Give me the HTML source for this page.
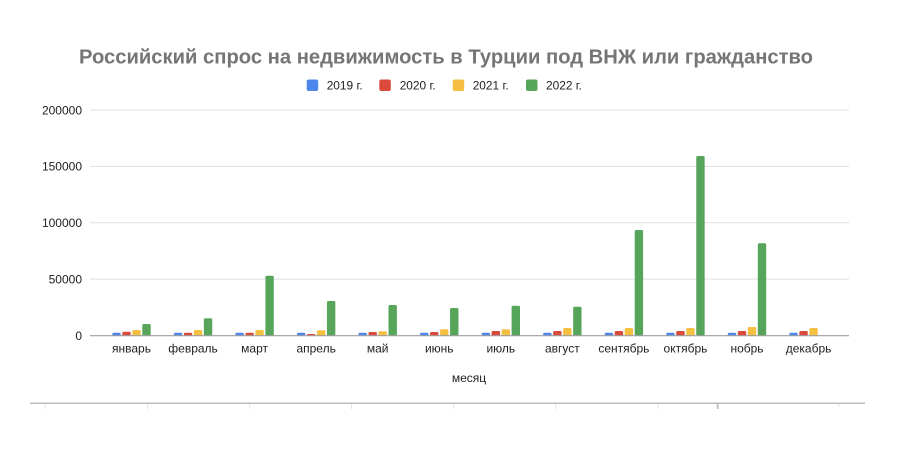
<!DOCTYPE html>
<html><head><meta charset="utf-8"><style>
html,body{margin:0;padding:0;background:#fff;}
svg{display:block;}
text{font-family:"Liberation Sans",Arial,sans-serif;}
</style></head><body>
<svg width="900" height="466" viewBox="0 0 900 466" xmlns="http://www.w3.org/2000/svg">
<rect width="900" height="466" fill="#fff"/>
<text x="446" y="63.3" text-anchor="middle" font-size="20" font-weight="bold" fill="#757575" textLength="734" lengthAdjust="spacingAndGlyphs">Российский спрос на недвижимость в Турции под ВНЖ или гражданство</text>
<!-- legend -->
<rect x="306.7" y="79.5" width="11.5" height="11.5" rx="2" fill="#4f86ec"/>
<text x="326.7" y="89.3" font-size="12" fill="#222" textLength="36" lengthAdjust="spacingAndGlyphs">2019 г.</text>
<rect x="379.3" y="79.5" width="11.5" height="11.5" rx="2" fill="#d94a3b"/>
<text x="399.7" y="89.3" font-size="12" fill="#222" textLength="36" lengthAdjust="spacingAndGlyphs">2020 г.</text>
<rect x="452.7" y="79.5" width="11.5" height="11.5" rx="2" fill="#f5c042"/>
<text x="472.7" y="89.3" font-size="12" fill="#222" textLength="36" lengthAdjust="spacingAndGlyphs">2021 г.</text>
<rect x="526" y="79.5" width="11.5" height="11.5" rx="2" fill="#57a55a"/>
<text x="546" y="89.3" font-size="12" fill="#222" textLength="36" lengthAdjust="spacingAndGlyphs">2022 г.</text>
<!-- gridlines -->
<g stroke="#e0e0e0" stroke-width="1">
<line x1="90" y1="110" x2="849" y2="110"/>
<line x1="90" y1="166.4" x2="849" y2="166.4"/>
<line x1="90" y1="222.8" x2="849" y2="222.8"/>
<line x1="90" y1="279.1" x2="849" y2="279.1"/>
</g>
<!-- y labels -->
<g font-size="12" fill="#222" text-anchor="end">
<text x="82" y="114.3">200000</text>
<text x="82" y="170.7">150000</text>
<text x="82" y="227.1">100000</text>
<text x="82" y="283.4">50000</text>
<text x="82" y="339.8">0</text>
</g>
<!-- bars -->
<g id="bars"></g>
<g>
<!-- generated inline -->
<g fill="#4f86ec">
<rect x="112.3" y="332.8" width="8.4" height="3" rx="1.3"/>
<rect x="173.85" y="332.8" width="8.4" height="3" rx="1.3"/>
<rect x="235.4" y="332.8" width="8.4" height="3" rx="1.3"/>
<rect x="296.95" y="332.8" width="8.4" height="3" rx="1.3"/>
<rect x="358.5" y="332.8" width="8.4" height="3" rx="1.3"/>
<rect x="420.05" y="332.8" width="8.4" height="3" rx="1.3"/>
<rect x="481.6" y="332.8" width="8.4" height="3" rx="1.3"/>
<rect x="543.15" y="332.8" width="8.4" height="3" rx="1.3"/>
<rect x="604.7" y="332.8" width="8.4" height="3" rx="1.3"/>
<rect x="666.25" y="332.8" width="8.4" height="3" rx="1.3"/>
<rect x="727.8" y="332.8" width="8.4" height="3" rx="1.3"/>
<rect x="789.35" y="332.8" width="8.4" height="3" rx="1.3"/>
</g>
<g fill="#d94a3b">
<rect x="122.3" y="331.7" width="8.4" height="4" rx="1.3"/>
<rect x="183.85" y="332.7" width="8.4" height="3" rx="1.3"/>
<rect x="245.4" y="332.7" width="8.4" height="3" rx="1.3"/>
<rect x="306.95" y="334" width="8.4" height="1.8" rx="0.8"/>
<rect x="368.5" y="332" width="8.4" height="3.8" rx="1.3"/>
<rect x="430.05" y="332" width="8.4" height="3.8" rx="1.3"/>
<rect x="491.6" y="331" width="8.4" height="4.8" rx="1.3"/>
<rect x="553.15" y="331" width="8.4" height="4.8" rx="1.3"/>
<rect x="614.7" y="331" width="8.4" height="4.8" rx="1.3"/>
<rect x="676.25" y="331" width="8.4" height="4.8" rx="1.3"/>
<rect x="737.8" y="331" width="8.4" height="4.8" rx="1.3"/>
<rect x="799.35" y="331" width="8.4" height="4.8" rx="1.3"/>
</g>
<g fill="#f5c042">
<rect x="132.3" y="330" width="8.4" height="5.8" rx="1.5"/>
<rect x="193.85" y="330" width="8.4" height="5.8" rx="1.5"/>
<rect x="255.4" y="330" width="8.4" height="5.8" rx="1.5"/>
<rect x="316.95" y="330.3" width="8.4" height="5.5" rx="1.5"/>
<rect x="378.5" y="331.3" width="8.4" height="4.5" rx="1.5"/>
<rect x="440.05" y="329.3" width="8.4" height="6.5" rx="1.5"/>
<rect x="501.6" y="329.3" width="8.4" height="6.5" rx="1.5"/>
<rect x="563.15" y="328" width="8.4" height="7.8" rx="1.5"/>
<rect x="624.7" y="328" width="8.4" height="7.8" rx="1.5"/>
<rect x="686.25" y="328" width="8.4" height="7.8" rx="1.5"/>
<rect x="747.8" y="327" width="8.4" height="8.8" rx="1.5"/>
<rect x="809.35" y="328" width="8.4" height="7.8" rx="1.5"/>
</g>
<g fill="#57a55a">
<rect x="142.3" y="324" width="8.4" height="11.8" rx="1.5"/>
<rect x="203.85" y="318.3" width="8.4" height="17.5" rx="1.5"/>
<rect x="265.4" y="275.7" width="8.4" height="60.1" rx="1.5"/>
<rect x="326.95" y="301" width="8.4" height="34.8" rx="1.5"/>
<rect x="388.5" y="305" width="8.4" height="30.8" rx="1.5"/>
<rect x="450.05" y="308" width="8.4" height="27.8" rx="1.5"/>
<rect x="511.6" y="305.7" width="8.4" height="30.1" rx="1.5"/>
<rect x="573.15" y="306.7" width="8.4" height="29.1" rx="1.5"/>
<rect x="634.7" y="230" width="8.4" height="105.8" rx="1.5"/>
<rect x="696.25" y="156" width="8.4" height="179.8" rx="1.5"/>
<rect x="757.8" y="243.3" width="8.4" height="92.5" rx="1.5"/>
</g>
</g>
<!-- zero line -->
<line x1="90" y1="335.7" x2="849" y2="335.7" stroke="#9e9e9e" stroke-width="1.2"/>
<!-- month labels -->
<g font-size="12" fill="#222" text-anchor="middle">
<text x="131.5" y="352.7">январь</text>
<text x="193.05" y="352.7">февраль</text>
<text x="254.6" y="352.7">март</text>
<text x="316.15" y="352.7">апрель</text>
<text x="377.7" y="352.7">май</text>
<text x="439.25" y="352.7">июнь</text>
<text x="500.8" y="352.7">июль</text>
<text x="562.35" y="352.7">август</text>
<text x="623.9" y="352.7">сентябрь</text>
<text x="685.45" y="352.7">октябрь</text>
<text x="747" y="352.7">нобрь</text>
<text x="808.55" y="352.7">декабрь</text>
</g>
<text x="469" y="381.8" font-size="12" fill="#222" text-anchor="middle">месяц</text>
<!-- bottom line and ticks -->
<line x1="30" y1="403.3" x2="865" y2="403.3" stroke="#bdbdbd" stroke-width="1.5"/>
<g stroke="#e3e3e3" stroke-width="1">
<line x1="45" y1="404" x2="45" y2="409"/>
<line x1="147.5" y1="404" x2="147.5" y2="409"/>
<line x1="249.7" y1="404" x2="249.7" y2="409"/>
<line x1="351.5" y1="404" x2="351.5" y2="409"/>
<line x1="453.5" y1="404" x2="453.5" y2="409"/>
<line x1="555.6" y1="404" x2="555.6" y2="409"/>
<line x1="658" y1="404" x2="658" y2="409"/>
<line x1="839" y1="404" x2="839" y2="407"/>
</g>
<line x1="717.7" y1="404" x2="717.7" y2="409" stroke="#c4c4c4" stroke-width="2"/>
</svg>
</body></html>
